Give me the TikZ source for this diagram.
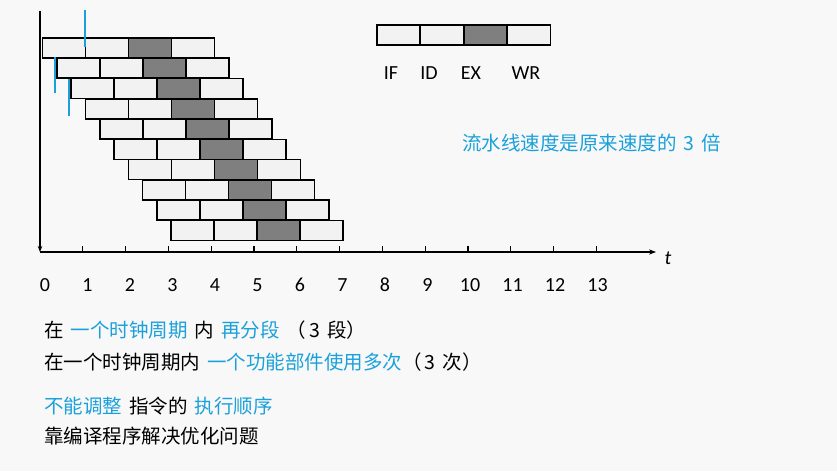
\documentclass[tikz,border=0pt]{standalone}
\usepackage{fontspec}
\usetikzlibrary{arrows.meta}
\setmainfont{Carlito}
\newfontfamily\cjk{Noto Sans CJK SC}
\definecolor{bg}{HTML}{F8F8F8}
\definecolor{lite}{HTML}{F2F2F2}
\definecolor{dark}{HTML}{7F7F7F}
\definecolor{hl}{HTML}{1BA1DA}
\tikzset{
 seg/.style={draw=black,line width=1.6pt,fill=lite,minimum width=43pt,minimum height=20pt,inner sep=0pt,anchor=north west},
 segd/.style={seg,fill=dark},
 num/.style={font=\fontsize{20}{20}\selectfont,inner sep=0pt},
 ctext/.style={font=\cjk\fontsize{19.5}{22}\selectfont,anchor=west,inner sep=0pt},
}
\newcommand{\gap}{\hspace{7pt}}
\begin{document}
\begin{tikzpicture}[x=1pt,y=-1pt]
\useasboundingbox[fill=bg] (0,0) rectangle (837,471);
% rows
\foreach \i in {0,...,9}{
  \pgfmathsetmacro\xx{41.7+14.3*\i}
  \pgfmathsetmacro\yy{37+20.3*\i}
  \node[seg] (r\i a) at (\xx,\yy) {};
  \node[seg] (r\i b) at (\xx+43,\yy) {};
  \node[segd] (r\i c) at (\xx+86,\yy) {};
  \node[seg] (r\i d) at (\xx+129,\yy) {};
}
% axes
\coordinate (top) at (40,11);
\coordinate (org) at (40,252);
\coordinate (xend) at (656,252);
\draw[line width=1.4pt,-{Stealth[length=6pt]}] (top) -- (org);
\draw[line width=1.4pt,-{Stealth[length=7pt]}] (org) -- (xend);
\foreach \k in {1,...,13}{
  \draw[line width=1.2pt] (40+42.8*\k,252) -- (40+42.8*\k,246);
}
\foreach \k in {0,...,13}{
  \node[num] (n\k) at (45+42.5*\k,285) {\k};
}
\node[num,font=\itshape\fontsize{20}{20}\selectfont] (t) at (668,258) {t};
% blue marks
\coordinate (b1a) at (85,10); \coordinate (b1b) at (85,47);
\coordinate (b2a) at (55,57); \coordinate (b2b) at (55,93);
\coordinate (b3a) at (69,79); \coordinate (b3b) at (69,116);
\draw[hl,line width=1.5pt] (b1a) -- (b1b);
\draw[hl,line width=1.5pt] (b2a) -- (b2b);
\draw[hl,line width=1.5pt] (b3a) -- (b3b);
% legend
\node[seg] (la) at (376,24) {};
\node[seg] (lb) at (419.5,24) {};
\node[segd] (lc) at (463,24) {};
\node[seg] (ld) at (506.5,24) {};
\node[num] (lif) at (391,73) {IF};
\node[num] (lid) at (429,73) {ID};
\node[num] (lex) at (471,73) {EX};
\node[num] (lwr) at (526,73) {WR};
% texts
\node[ctext,hl] (sp) at (462,143) {流水线速度是原来速度的\gap 3\gap 倍};
\node[ctext] (l1) at (44,330) {在\gap\textcolor{hl}{一个时钟周期}\gap 内\gap\textcolor{hl}{再分段}\gap（\,3\gap 段）};
\node[ctext] (l2) at (44,362) {在一个时钟周期内\gap\textcolor{hl}{一个功能部件使用多次}（\,3\gap 次）};
\node[ctext] (l3) at (44,406) {\textcolor{hl}{不能调整}\gap 指令的\gap\textcolor{hl}{执行顺序}};
\node[ctext] (l4) at (44,436) {靠编译程序解决优化问题};
\end{tikzpicture}
\end{document}
